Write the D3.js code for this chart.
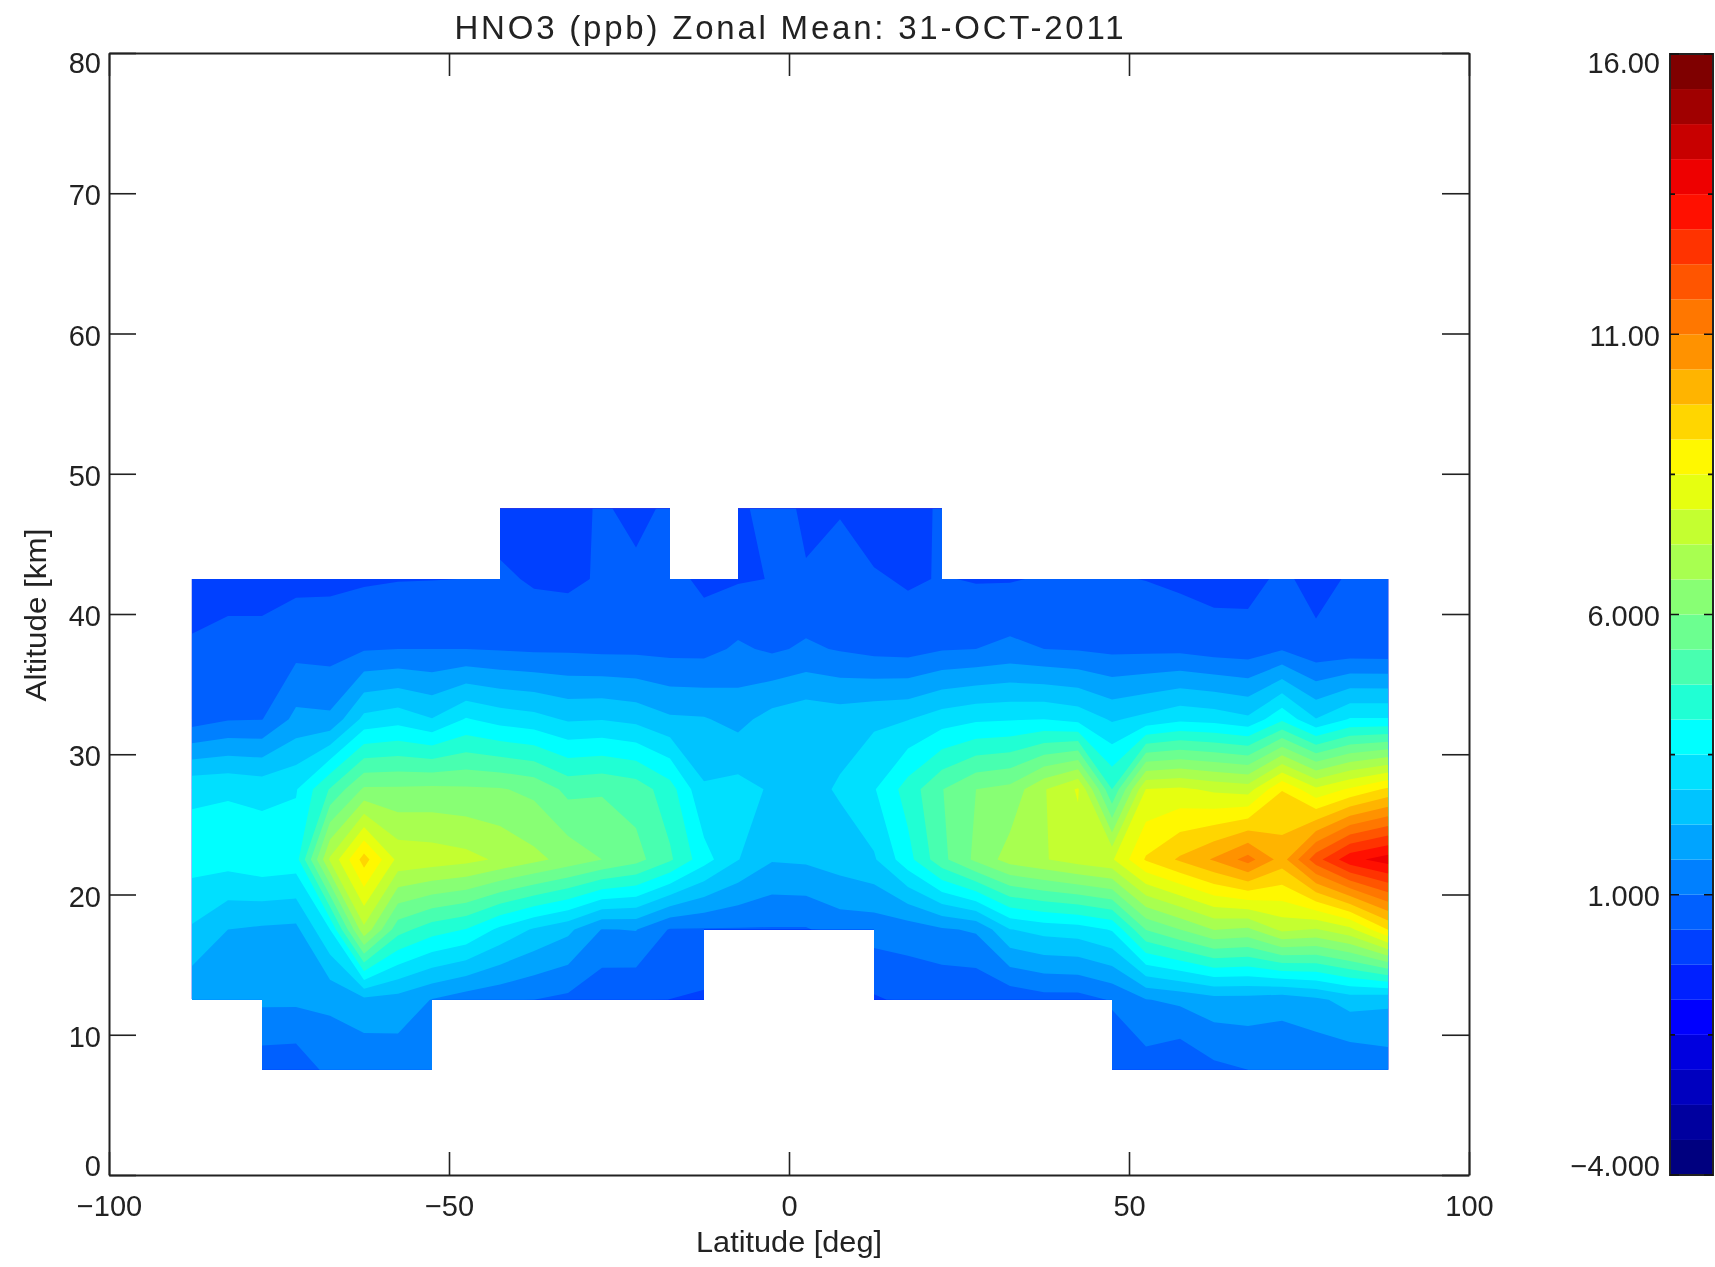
<!DOCTYPE html>
<html>
<head>
<meta charset="utf-8">
<title>HNO3 Zonal Mean</title>
<script src="https://cdn.jsdelivr.net/npm/d3@7"></script>
<style>
  html, body { margin: 0; background: #fff; }
  svg { display: block; filter: blur(0.7px); }
  text { font-family: "Liberation Sans", sans-serif; font-size: 29px; fill: #222; }
  .domain { stroke: #222; stroke-width: 2; }
  .tick line { stroke: #222; stroke-width: 1.6; }
</style>
</head>
<body>
<script>
//// Data ////////////////////////////////////////////
const TITLE = "HNO3 (ppb) Zonal Mean: 31-OCT-2011"
const X_TITLE = "Latitude [deg]"
const Y_TITLE = "Altitude [km]"

const X_TICKS = [-100, -50, 0, 50, 100]
const Y_TICKS = [0, 10, 20, 30, 40, 50, 60, 70, 80]
const BAR_TICKS = [-4, 1, 6, 11, 16]
const BAR_LABELS = ["\u22124.000", "1.000", "6.000", "11.00", "16.00"]
const BAR_MINOR = [-1.5, 3.5, 8.5, 13.5]

const lats = [-87.8, -82.5, -77.5, -72.5, -67.5, -62.5, -57.5, -52.5, -47.5, -42.5, -37.5, -32.5,
  -27.5, -22.5, -17.5, -12.5, -7.5, -2.5, 2.5, 7.5, 12.5, 17.5, 22.5, 27.5,
  32.5, 37.5, 42.5, 47.5, 52.5, 57.5, 62.5, 67.5, 72.5, 77.5, 82.5, 88.1]
const alts = [47.5, 42.5, 37.5, 32.5, 27.5, 22.5, 17.5, 12.5, 7.5]

// one row of ppb values per altitude, null where there is no data
const hno3_47 = [null, null, null, null, null, null, null, null, null, .05, 0, .05,
  .5, .1, .57, null, .15, .8, .2, .3, 0, .05, .5, null,
  null, null, null, null, null, null, null, null, null, null, null, null]
const hno3_42 = [0, .18, .18, .22, .25, .3, .35, .36, .38, .5, .29, .24,
  .45, .6, .6, .22, .32, .39, .45, .8, .45, .3, .41, .33,
  .33, .43, .45, .42, .36, .25, .15, .17, .5, .15, .45, .5]
const hno3_37 = [.48, .55, .55, .8, .75, .95, 1, 1, 1, .95, .9, .9,
  .85, .85, .8, .8, 1.1, .9, 1.1, .95, .8, .75, .95, 1,
  1.15, 1, .95, .85, .85, .85, .7, .65, .95, .55, .6, .58]
const hno3_32 = [.7, .95, .98, 1.8, 1.75, 3.05, 3.25, 2.9, 3.55, 3.25, 3.1, 2.8,
  2.85, 2.7, 2.35, 2.3, 2.05, 2.5, 2.7, 2.6, 2.75, 2.85, 3.2, 3.4,
  3.45, 3.5, 3.3, 2.8, 3.05, 3.35, 3.25, 3, 4, 2.9, 3.55, 3.55]
const hno3_27 = [3.4, 3.45, 3.3, 3.45, 4.8, 6.1, 6.1, 6.15, 6.1, 6.05, 5.85, 5.2,
  5.3, 5.1, 4.4, 2.95, 3.1, 2.8, 2.65, 2.95, 3.45, 4.4, 5.35, 6,
  6.2, 7.2, 7.95, 4.75, 7.9, 8, 7.75, 7.6, 9.1, 8, 8.6, 9.25]
const hno3_22 = [3.75, 3.75, 3.95, 3.85, 7.35, 9.4, 7.7, 7.6, 7.45, 7.15, 6.8, 6.4,
  6, 5.6, 4.85, 3.75, 2.9, 2.3, 2.35, 2.55, 2.8, 3.9, 5.2, 6.15,
  6.9, 7.2, 7.55, 7.8, 9.2, 9.85, 10.45, 11.25, 10.1, 12, 13.3, 13.8]
const hno3_17 = [2.8, 2.25, 2.15, 2.1, 3.5, 7.1, 5, 4.4, 4.1, 3.35, 2.8, 2.4,
  1.6, 1.65, .95, .95, .95, .95, .95, 1.25, 1.25, 1.3, 1.55, 1.7,
  2.85, 3.1, 3.2, 3.55, 5.4, 6, 6.65, 6.5, 7.4, 7.2, 7.7, 9.15]
const hno3_12 = [1.74, 1.75, 1.75, 1.75, 1.75, 2.1, 2, 1.6, 1.3, 1.15, 1, .85,
  .5, .45, .37, .28, null, null, null, null, .3, .5, .45, .42,
  .55, .75, .75, 1.05, 1.6, 1.75, 2, 2, 1.85, 2.1, 2.5, 2.4]
const hno3_07 = [null, null, .6, .55, 1.2, 1.1, 1.22, 1.3, null, null, null, null,
  null, null, null, null, null, null, null, null, null, null, null, null,
  null, null, null, .7, .7, .4, .84, 1, 1.1, 1.06, 1.05, 1.25]

const grid = [hno3_47, hno3_42, hno3_37, hno3_32, hno3_27, hno3_22, hno3_17, hno3_12, hno3_07]

// colour table, lowest band first
const BAND_START = -4
const BAND_STEP = .625
const bandColors = ["#00007f", "#00009f", "#0000bf", "#0000df", "#0000ff", "#0020ff", "#0040ff", "#0060ff",
  "#0080ff", "#00a4ff", "#00c4ff", "#00e0ff", "#00ffff", "#20ffd4", "#48ffb0", "#6cff90",
  "#88ff74", "#a8ff50", "#c4ff30", "#e6ff10", "#fff800", "#ffd600", "#ffb400", "#ff9200",
  "#ff7700", "#ff5500", "#ff3300", "#ff1000", "#ee0000", "#c80000", "#a00000", "#7f0000"]
const thresholds = bandColors.map((c, i) => BAND_START + i * BAND_STEP)

//// Drawing Area ////////////////////////////////////
const WIDTH = 1715
const HEIGHT = 1267

const x = d3.scaleLinear().domain([-100, 100]).range([109, 1469])
const y = d3.scaleLinear().domain([0, 80]).range([1175, 53])
const barY = d3.scaleLinear().domain([-4, 16]).range([1175, 54])
const BAR_LEFT = 1670
const BAR_RIGHT = 1713

const svg = d3.select("body").append("svg")
  .attr("width", WIDTH)
  .attr("height", HEIGHT)

//// Contours ////////////////////////////////////////
const nx = lats.length
const ny = alts.length
const missing = -10
const flat = grid.flat().map(v => v === null ? missing : v)

// only the grid cells with four valid corners are shown,
// all in one path so that shared edges leave no seam
let clipPath = ""
for (let j = 0; j < ny - 1; j++) {
  for (let i = 0; i < nx - 1; i++) {
    if (grid[j][i] !== null && grid[j][i + 1] !== null && grid[j + 1][i] !== null && grid[j + 1][i + 1] !== null) {
      clipPath += `M${x(lats[i])},${y(alts[j])}H${x(lats[i + 1])}V${y(alts[j + 1])}H${x(lats[i])}Z`
    }
  }
}
svg.append("clipPath").attr("id", "data-cells")
  .append("path").attr("d", clipPath)

// d3.contours puts grid point i at coordinate i + .5
const gridLat = d3.scaleLinear().domain(lats.map((d, i) => i + .5)).range(lats)
const gridAlt = d3.scaleLinear().domain(alts.map((d, i) => i + .5)).range(alts)
const project = d3.geoTransform({
  point(px, py) {
    this.stream.point(x(gridLat(px)), y(gridAlt(py)))
  }
})
const path = d3.geoPath(project)

const contours = d3.contours().size([nx, ny]).thresholds(thresholds)(flat)

svg.append("g")
  .attr("clip-path", "url(#data-cells)")
  .selectAll("path")
  .data(contours)
  .join("path")
  .attr("d", path)
  .attr("fill", (d, i) => bandColors[i])

//// Axes ////////////////////////////////////////////
const BOX_LEFT = x.range()[0]
const BOX_RIGHT = x.range()[1]
const BOX_BOTTOM = y.range()[0]
const BOX_TOP = y.range()[1]

const bottom = svg.append("g")
  .attr("transform", `translate(0,${BOX_BOTTOM})`)
  .call(d3.axisBottom(x).tickValues(X_TICKS).tickSize(-23).tickSizeOuter(0).tickPadding(20))
svg.append("g")
  .attr("transform", `translate(0,${BOX_TOP})`)
  .call(d3.axisTop(x).tickValues(X_TICKS).tickSize(-23).tickSizeOuter(0).tickFormat(""))
const left = svg.append("g")
  .attr("transform", `translate(${BOX_LEFT},0)`)
  .call(d3.axisLeft(y).tickValues(Y_TICKS).tickSize(-27).tickSizeOuter(0).tickPadding(8))
svg.append("g")
  .attr("transform", `translate(${BOX_RIGHT},0)`)
  .call(d3.axisRight(y).tickValues(Y_TICKS).tickSize(-27).tickSizeOuter(0).tickFormat(""))

svg.selectAll(".tick text").style("font-size", "29px").style("font-family", null)
bottom.selectAll(".tick text").attr("dy", "0.71em")

// the end labels sit inside the axis range
left.selectAll(".tick text")
  .attr("dy", d => d === 80 ? "0.66em" : d === 0 ? "0.02em" : "0.4em")

svg.append("text")
  .attr("x", x(0))
  .attr("y", 39)
  .attr("text-anchor", "middle")
  .attr("textLength", 669)
  .attr("lengthAdjust", "spacing")
  .style("font-size", "33px")
  .text(TITLE)

svg.append("text")
  .attr("x", x(0))
  .attr("y", 1252)
  .attr("text-anchor", "middle")
  .attr("textLength", 186)
  .attr("lengthAdjust", "spacingAndGlyphs")
  .text(X_TITLE)

svg.append("text")
  .attr("transform", `translate(46,${y(40) + 1}) rotate(-90)`)
  .attr("text-anchor", "middle")
  .attr("textLength", 173)
  .attr("lengthAdjust", "spacingAndGlyphs")
  .text(Y_TITLE)

//// Colour Bar //////////////////////////////////////
svg.append("g")
  .selectAll("rect")
  .data(bandColors)
  .join("rect")
  .attr("x", BAR_LEFT)
  .attr("y", (d, i) => barY(thresholds[i] + BAND_STEP))
  .attr("width", BAR_RIGHT - BAR_LEFT)
  .attr("height", (d, i) => barY(thresholds[i]) - barY(thresholds[i] + BAND_STEP))
  .attr("fill", d => d)

svg.append("rect")
  .attr("x", BAR_LEFT)
  .attr("y", barY(16))
  .attr("width", BAR_RIGHT - BAR_LEFT)
  .attr("height", barY(-4) - barY(16))
  .attr("fill", "none")
  .attr("stroke", "#222")
  .attr("stroke-width", 2)

const barTicks = BAR_TICKS.map(v => ({ v: v, len: 9 })).concat(BAR_MINOR.map(v => ({ v: v, len: 5 })))
svg.append("g")
  .selectAll("path")
  .data(barTicks)
  .join("path")
  .attr("d", d => `M${BAR_LEFT},${barY(d.v)}h${d.len}M${BAR_RIGHT},${barY(d.v)}h${-d.len}`)
  .attr("stroke", "#111")
  .attr("stroke-width", 1.6)

svg.append("g")
  .selectAll("text")
  .data(BAR_TICKS)
  .join("text")
  .attr("x", BAR_LEFT - 10)
  .attr("y", d => barY(d))
  .attr("text-anchor", "end")
  .attr("dy", d => d === 16 ? "0.66em" : d === -4 ? "0.02em" : "0.4em")
  .text((d, i) => BAR_LABELS[i])
</script>
</body>
</html>
